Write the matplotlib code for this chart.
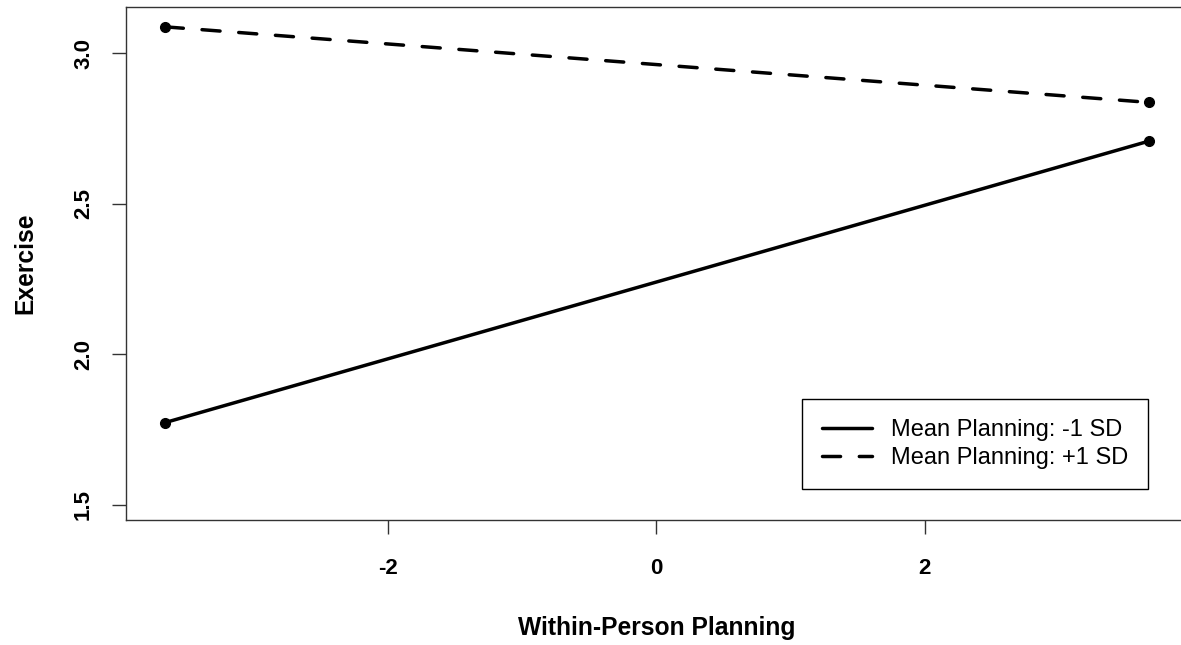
import matplotlib
matplotlib.use("Agg")
import matplotlib.pyplot as plt
import numpy as np

plt.rcParams['font.family'] = ['Liberation Sans', 'DejaVu Sans']
plt.rcParams['lines.scale_dashes'] = False

# simple slopes of exercise on within-person planning
planning = [-3.66, 3.67]
exercise_low = [1.773, 2.708]    # mean planning -1 SD
exercise_high = [3.088, 2.837]   # mean planning +1 SD
series_labels = ["Mean Planning: -1 SD", "Mean Planning: +1 SD"]

x_ticks = [-2, 0, 2]
y_ticks = [1.5, 2.0, 2.5, 3.0]

W, H = 1181, 645
fig = plt.figure(figsize=(W / 100, H / 100), dpi=100)
ax = fig.add_axes([126 / W, 1 - 520 / H, 1062 / W, 513 / H])

ax.plot(planning, exercise_low, color='black', lw=2.5, solid_capstyle='round',
        marker='o', ms=7, label=series_labels[0])
ax.plot(planning, exercise_high, color='black', lw=2.5, linestyle=(0, (13, 13.5)),
        dash_capstyle='round', marker='o', ms=7, label=series_labels[1])

# R-style 4% padding on x, fixed range on y
span = planning[1] - planning[0]
ax.set_xlim(planning[0] - 0.04 * span, planning[1] + 0.04 * span)
ax.set_ylim(1.449, 3.154)

ax.set_xticks(x_ticks)
ax.set_xticklabels([str(t) for t in x_ticks])
ax.set_yticks(y_ticks)
ax.set_yticklabels([f"{t:.1f}" for t in y_ticks])

for s in ax.spines.values():
    s.set_color('#333333')
    s.set_linewidth(1.0)
ax.tick_params(axis='both', length=10, width=1.0, color='#333333',
               labelsize=16)
ax.tick_params(axis='x', pad=17)
ax.tick_params(axis='y', pad=13)
for lab in ax.get_xticklabels() + ax.get_yticklabels():
    lab.set_fontweight('bold')
for lab in ax.get_yticklabels():
    lab.set_rotation(90)
    lab.set_verticalalignment('center')

fig.text(657 / W, 1 - 635 / H, "Within-Person Planning", fontsize=17.7,
         fontweight='bold', ha='center', va='baseline')
fig.text(32 / W, 1 - 263.5 / H, "Exercise", fontsize=17.7, fontweight='bold',
         rotation=90, ha='center', va='baseline', rotation_mode='anchor')

leg = ax.legend(loc='lower right', bbox_to_anchor=(0.9623, 0.0604),
                borderaxespad=0, fontsize=17, handlelength=2.1,
                handletextpad=0.8, labelspacing=0.25, borderpad=0.85,
                fancybox=False, framealpha=1, edgecolor='black')
leg.get_frame().set_linewidth(1.0)
for h in leg.legend_handles:
    h.set_marker('')

fig.savefig("out.png", dpi=100)
